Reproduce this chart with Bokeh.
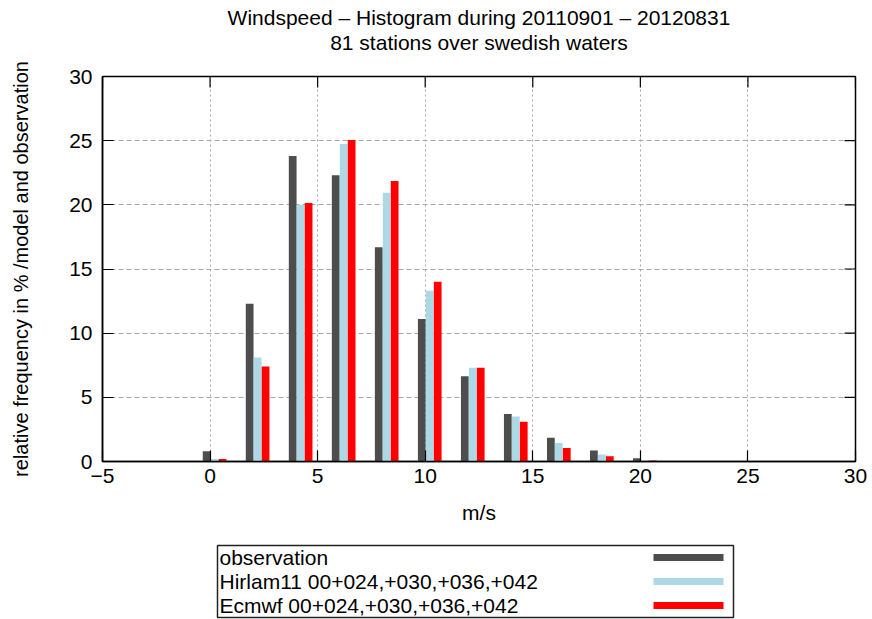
from bokeh.plotting import figure
from bokeh.models import Range1d, FixedTicker, ColumnDataSource
from bokeh.layouts import column
from bokeh.embed import file_html
from bokeh.resources import INLINE
from bokeh.core.properties import value

# Histogram bins (m/s) and relative frequencies in %
bins = [0, 2, 4, 6, 8, 10, 12, 14, 16, 18, 20]
observation = [0.8, 12.3, 23.8, 22.3, 16.7, 11.1, 6.65, 3.7, 1.85, 0.85, 0.25]
hirlam = [0.2, 8.1, 20.0, 24.75, 20.95, 13.3, 7.3, 3.5, 1.45, 0.55, 0.1]
ecmwf = [0.2, 7.4, 20.15, 25.05, 21.85, 14.0, 7.3, 3.1, 1.05, 0.4, 0.08]

series_names = ["observation", "Hirlam11 00+024,+030,+036,+042", "Ecmwf 00+024,+030,+036,+042"]
series_colors = ["#4d4d4d", "#add8e6", "#ff0000"]
x_ticks = [-5, 0, 5, 10, 15, 20, 25, 30]
y_ticks = [0, 5, 10, 15, 20, 25, 30]

title_lines = ["Windspeed \u2013 Histogram during 20110901 \u2013 20120831",
               "81 stations over swedish waters"]
x_label = "m/s"
y_label = "relative frequency in % /model and observation"

FONT = "Liberation Sans"
FS = "21px"
W = 872
LEFT, RIGHT = 102, 17
TITLE_H = 60
MAIN_H, TOP_B, BOT_B = 480, 16, 79
LEG_H = 619 - TITLE_H - MAIN_H


def text_panel(h):
    """A text-only strip whose data coordinates are canvas pixels."""
    f = figure(width=W, height=h, output_backend="svg", toolbar_location=None,
               x_range=Range1d(LEFT, W - RIGHT), y_range=Range1d(h, 0),
               min_border_left=LEFT, min_border_right=RIGHT,
               min_border_top=0, min_border_bottom=0)
    f.axis.visible = False
    f.grid.visible = False
    f.outline_line_color = None
    f.border_fill_color = "white"
    f.background_fill_color = "white"
    return f


# --- title strip ---
top = text_panel(TITLE_H)
top.text(x=[(LEFT + W - RIGHT) / 2] * 2, y=[17, 42], text=title_lines,
         text_align="center", text_baseline="middle",
         text_font=value(FONT), text_font_size=FS, text_color="black")

# --- main histogram ---
p = figure(width=W, height=MAIN_H, output_backend="svg", toolbar_location=None,
           x_range=Range1d(-5, 30), y_range=Range1d(0, 30),
           min_border_left=LEFT, min_border_right=RIGHT,
           min_border_top=TOP_B, min_border_bottom=BOT_B)
p.outline_line_color = "black"
p.outline_line_width = 1.5
p.background_fill_color = "white"
p.border_fill_color = "white"

# grid
p.xgrid.ticker = FixedTicker(ticks=x_ticks)
p.ygrid.ticker = FixedTicker(ticks=y_ticks)
p.xgrid.grid_line_color = "#a8a8a8"
p.xgrid.grid_line_dash = "2 3"
p.ygrid.grid_line_color = "#a8a8a8"
p.ygrid.grid_line_dash = "5 3"

# bars: three series side by side in each bin
offsets = [-0.16, 0.21, 0.58]
bar_w = 0.36
for vals, off, col in zip([observation, hirlam, ecmwf], offsets, series_colors):
    src = ColumnDataSource(dict(x=[b + off for b in bins], top=vals))
    p.vbar(x="x", top="top", width=bar_w, bottom=0, source=src,
           fill_color=col, line_color=None)

TICK = 11
for ax in (p.xaxis[0], p.yaxis[0]):
    ax.major_tick_in = TICK
    ax.major_tick_out = 0
    ax.minor_tick_in = 0
    ax.minor_tick_out = 0
    ax.axis_line_color = "black"
    ax.axis_line_width = 1.5
    ax.major_tick_line_color = "black"
    ax.major_tick_line_width = 1.2
    ax.major_label_text_font = FONT
    ax.major_label_text_font_size = FS
    ax.major_label_text_color = "black"
    ax.axis_label_text_font = FONT
    ax.axis_label_text_font_size = FS
    ax.axis_label_text_font_style = "normal"
    ax.axis_label_text_color = "black"

p.xaxis[0].ticker = FixedTicker(ticks=x_ticks)
p.yaxis[0].ticker = FixedTicker(ticks=y_ticks)
p.xaxis[0].major_label_standoff = 7
p.yaxis[0].major_label_standoff = 10
p.xaxis[0].axis_label = x_label
p.yaxis[0].axis_label = y_label
p.yaxis[0].axis_label_text_font_size = "20px"
p.xaxis[0].axis_label_standoff = 15
p.yaxis[0].axis_label_standoff = 34

# mirrored inward ticks on the top and right borders
frame_h = MAIN_H - TOP_B - BOT_B
frame_w = W - LEFT - RIGHT
dy = TICK * 30 / frame_h
dx = TICK * 35 / frame_w
p.segment(x0=x_ticks, x1=x_ticks, y0=[30] * len(x_ticks), y1=[30 - dy] * len(x_ticks),
          line_color="black", line_width=1.2)
p.segment(x0=[30] * len(y_ticks), x1=[30 - dx] * len(y_ticks), y0=y_ticks, y1=y_ticks,
          line_color="black", line_width=1.2)

# --- legend strip ---
leg = text_panel(LEG_H)
leg.quad(left=[217], right=[733], top=[5], bottom=[77], fill_color="white",
         line_color="#222222", line_width=1.5)
row_y = [17, 41, 65]
leg.text(x=[219] * 3, y=row_y, text=series_names, text_align="left", text_baseline="middle",
         text_font=value(FONT), text_font_size=FS, text_color="black")
leg.segment(x0=[653] * 3, x1=[723] * 3, y0=row_y, y1=row_y, line_color=series_colors,
            line_width=7)

layout = column(top, p, leg, spacing=0)
open("out.html", "w").write(file_html(layout, INLINE))
